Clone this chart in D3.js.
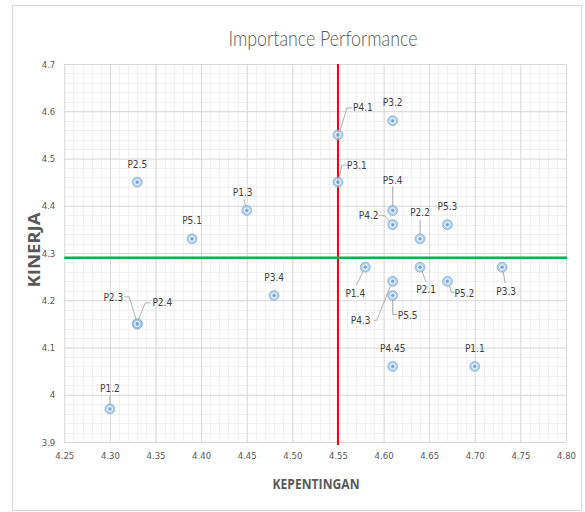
<!DOCTYPE html>
<html>
<head>
<meta charset="utf-8">
<script src="https://cdn.jsdelivr.net/npm/d3@7"></script>
<style>
  html, body { margin: 0; padding: 0; background: #fff; }
  svg { display: block; }
</style>
</head>
<body>
<svg id="chart" width="585" height="512"></svg>
<script>
// ---------- DATA ----------
const labels      = ["P2.5","P1.3","P5.1","P4.1","P3.1","P3.2","P5.4","P4.2","P2.2","P5.3","P3.4","P2.3","P2.4","P1.2","P1.4","P2.1","P5.2","P3.3","P4.3","P5.5","P4.45","P1.1"];
const kepentingan = [4.33, 4.45, 4.39, 4.55, 4.55, 4.61, 4.61, 4.61, 4.64, 4.67, 4.48, 4.33, 4.33, 4.30, 4.58, 4.64, 4.67, 4.73, 4.61, 4.61, 4.61, 4.70];
const kinerja     = [4.45, 4.39, 4.33, 4.55, 4.45, 4.58, 4.39, 4.36, 4.33, 4.36, 4.21, 4.15, 4.15, 3.97, 4.27, 4.27, 4.24, 4.27, 4.24, 4.21, 4.06, 4.06];
const xTicks = [4.25, 4.30, 4.35, 4.40, 4.45, 4.50, 4.55, 4.60, 4.65, 4.70, 4.75, 4.80];
const yTicks = [3.9, 4.0, 4.1, 4.2, 4.3, 4.4, 4.5, 4.6, 4.7];
const meanKepentingan = 4.55;
const meanKinerja = 4.29;
const title = "Importance Performance";
const xTitle = "KEPENTINGAN";
const yTitle = "KINERJA";

// ---------- LABEL LAYOUT (pixel offsets from each point) ----------
const labelLayout = {
  "P4.1": {dx: 25, dy: -27, leader: [[2,-4],[9,-27],[14,-27]]},
  "P3.1": {dx: 19, dy: -17, leader: [[1,-4],[4,-17],[10,-17]]},
  "P5.4": {dx: 0, dy: -30, leader: [[0,-4],[0,-24]]},
  "P4.2": {dx: -24, dy: -9, leader: [[-3,-3],[-8,-9],[-14,-9]]},
  "P2.2": {dx: 0, dy: -26, leader: [[0,-4],[0,-19]]},
  "P1.3": {dx: -4, dy: -18, leader: [[-1,-4],[-3,-11]]},
  "P2.3": {dx: -24, dy: -26, leader: [[-1,-4],[-8,-27],[-13,-27]]},
  "P2.4": {dx: 25, dy: -21, leader: [[1,-4],[8,-21],[13,-21]]},
  "P1.2": {dx: 0, dy: -20, leader: [[0,-4],[0,-13]]},
  "P1.4": {dx: -10, dy: 26, leader: [[-2,4],[-9,18]]},
  "P4.3": {dx: -32, dy: 39, leader: [[-2,4],[-16,39],[-19,39]]},
  "P5.5": {dx: 15, dy: 20, leader: [[0,4],[0,19],[4,19]]},
  "P2.1": {dx: 6, dy: 22, leader: [[2,4],[6,15]]},
  "P5.2": {dx: 17, dy: 12, leader: [[2,4],[4,11],[7,11]]},
  "P3.3": {dx: 4, dy: 24, leader: [[1,4],[3,16]]}
};
const defaultLayout = {dx: 0, dy: -18, leader: null};

// ---------- SETUP ----------
const W = 585, H = 512;
const margin = {left: 64.3, right: W - 566, top: 64, bottom: H - 442};
const svg = d3.select("#chart");

const x = d3.scaleLinear().domain([4.25, 4.80]).range([margin.left, W - margin.right]);
const y = d3.scaleLinear().domain([3.9, 4.7]).range([H - margin.bottom, margin.top]);

const tickFont = "'Liberation Sans Narrow', 'DejaVu Sans Condensed', 'Arial Narrow', sans-serif";

// outer chart border
svg.append("rect")
  .attr("x", 12.5).attr("y", 5.5)
  .attr("width", 569).attr("height", 505)
  .attr("fill", "#fff").attr("stroke", "#d9d9d9").attr("stroke-width", 1);

// minor gridlines
const xMinor = d3.range(0, 56).map(i => 4.25 + i * 0.01);
const yMinor = d3.range(0, 41).map(i => 3.9 + i * 0.02);
const grid = svg.append("g");
grid.selectAll("line.xm").data(xMinor).join("line")
  .attr("x1", d => Math.round(x(d)) + 0.5).attr("x2", d => Math.round(x(d)) + 0.5)
  .attr("y1", y(3.9)).attr("y2", y(4.7))
  .attr("stroke", "#f0f0f0").attr("stroke-width", 1);
grid.selectAll("line.ym").data(yMinor).join("line")
  .attr("y1", d => Math.round(y(d)) + 0.5).attr("y2", d => Math.round(y(d)) + 0.5)
  .attr("x1", x(4.25)).attr("x2", x(4.80))
  .attr("stroke", "#f0f0f0").attr("stroke-width", 1);

// major gridlines via axes
const xAxisGrid = d3.axisBottom(x).tickValues(xTicks).tickSize(-(y(3.9) - y(4.7))).tickFormat("");
const yAxisGrid = d3.axisLeft(y).tickValues(yTicks).tickSize(-(x(4.80) - x(4.25))).tickFormat("");
grid.append("g").attr("transform", `translate(0,${y(3.9)})`).call(xAxisGrid)
  .call(g => g.select(".domain").remove())
  .call(g => g.selectAll("line").attr("stroke", "#d9d9d9"));
grid.append("g").attr("transform", `translate(${x(4.25)},0)`).call(yAxisGrid)
  .call(g => g.select(".domain").remove())
  .call(g => g.selectAll("line").attr("stroke", "#d9d9d9"));

// tick labels via axes
const xAxis = d3.axisBottom(x).tickValues(xTicks).tickSize(0).tickPadding(10).tickFormat(d3.format(".2f"));
const yAxis = d3.axisLeft(y).tickValues(yTicks).tickSize(0).tickPadding(9).tickFormat(d => d3.format("")(+d.toFixed(1)));
svg.append("g").attr("transform", `translate(0,${y(3.9)})`).call(xAxis)
  .call(g => g.select(".domain").remove())
  .call(g => g.selectAll("text").attr("fill", "#595959").attr("font-size", 9.5).attr("font-family", tickFont));
svg.append("g").attr("transform", `translate(${x(4.25)},0)`).call(yAxis)
  .call(g => g.select(".domain").remove())
  .call(g => g.selectAll("text").attr("fill", "#595959").attr("font-size", 9.5).attr("font-family", tickFont));

// mean lines
svg.append("line")
  .attr("x1", x(meanKepentingan)).attr("x2", x(meanKepentingan))
  .attr("y1", y(4.7)).attr("y2", y(3.9) + 3)
  .attr("stroke", "#ff0000").attr("stroke-width", 2);
svg.append("line")
  .attr("x1", x(4.25)).attr("x2", x(4.80) + 1)
  .attr("y1", y(meanKinerja)).attr("y2", y(meanKinerja))
  .attr("stroke", "#00b050").attr("stroke-width", 2.5);

// points
const pts = labels.map((l, i) => ({label: l, kx: kepentingan[i], ky: kinerja[i]}));

// leaders
const lineGen = d3.line();
svg.append("g").selectAll("path").data(pts.filter(p => (labelLayout[p.label] || defaultLayout).leader)).join("path")
  .attr("d", p => {
    const L = labelLayout[p.label];
    const px = x(p.kx), py = y(p.ky);
    return lineGen(L.leader.map(([a, b]) => [px + a, py + b]));
  })
  .attr("fill", "none").attr("stroke", "#a6a6a6").attr("stroke-width", 0.9);

const markers = svg.append("g").selectAll("g").data(pts).join("g")
  .attr("transform", p => `translate(${x(p.kx)},${y(p.ky)})`);
markers.append("circle").attr("r", 5)
  .attr("fill", "#9dc3e6").attr("fill-opacity", 0.8)
  .attr("stroke", "#7ea9d8").attr("stroke-width", 0.8).attr("stroke-opacity", 0.8);
markers.append("circle").attr("r", 2.6)
  .attr("fill", "none").attr("stroke", "#ffffff").attr("stroke-width", 0.9).attr("stroke-opacity", 0.85);
markers.append("circle").attr("r", 1.3)
  .attr("fill", "#6f9fd6");

// labels
svg.append("g").selectAll("text").data(pts).join("text")
  .attr("x", p => x(p.kx) + (labelLayout[p.label] || defaultLayout).dx)
  .attr("y", p => y(p.ky) + (labelLayout[p.label] || defaultLayout).dy)
  .attr("text-anchor", "middle").attr("dominant-baseline", "central")
  .attr("font-family", tickFont).attr("font-size", 10)
  .attr("fill", "#404040")
  .text(p => p.label);

// title
svg.append("text")
  .attr("x", 323).attr("y", 37)
  .attr("text-anchor", "middle").attr("dominant-baseline", "central")
  .attr("font-family", "Lato, 'Open Sans', sans-serif").attr("font-weight", 300)
  .attr("font-size", 21).attr("fill", "#595959")
  .attr("textLength", 189).attr("lengthAdjust", "spacingAndGlyphs")
  .text(title);

// axis titles
svg.append("text")
  .attr("x", 316).attr("y", 483)
  .attr("text-anchor", "middle").attr("dominant-baseline", "central")
  .attr("font-family", "'Open Sans', 'Liberation Sans', sans-serif").attr("font-weight", 700)
  .attr("font-size", 14).attr("fill", "#595959")
  .attr("textLength", 87).attr("lengthAdjust", "spacingAndGlyphs")
  .text(xTitle);
svg.append("text")
  .attr("transform", "translate(34,250) rotate(-90)")
  .attr("text-anchor", "middle").attr("dominant-baseline", "central")
  .attr("font-family", "'Open Sans', 'Liberation Sans', sans-serif").attr("font-weight", 700)
  .attr("font-size", 16).attr("fill", "#595959")
  .attr("textLength", 75).attr("lengthAdjust", "spacingAndGlyphs")
  .text(yTitle);
</script>
</body>
</html>
